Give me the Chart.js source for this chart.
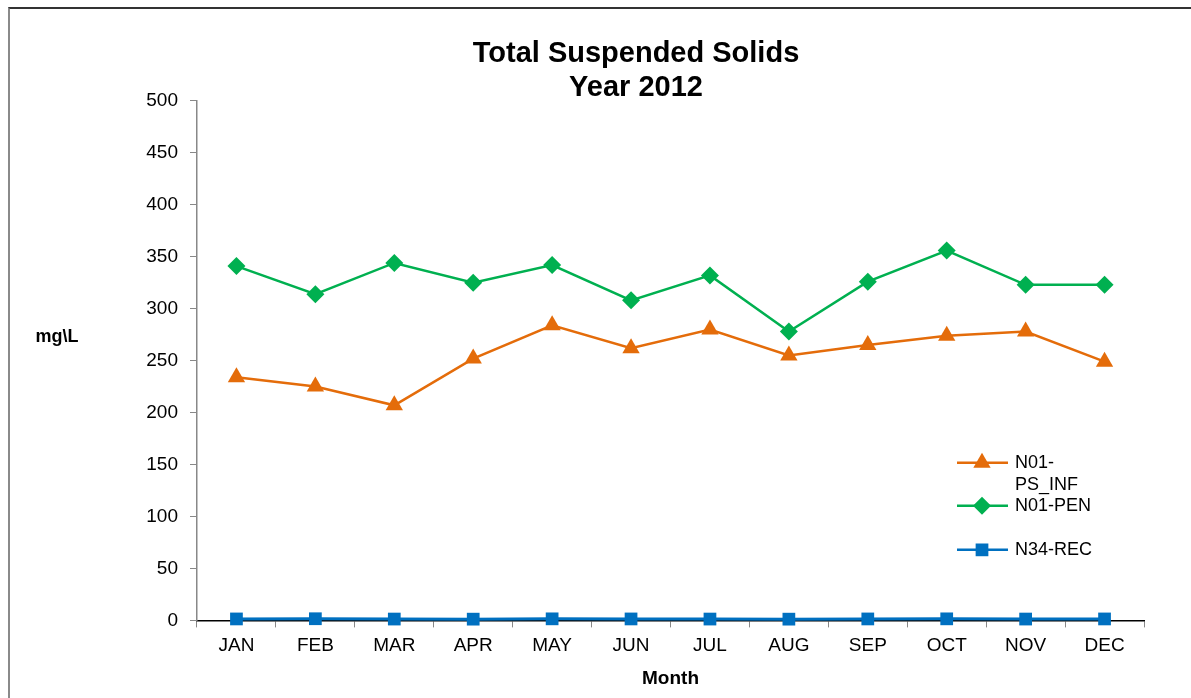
<!DOCTYPE html>
<html>
<head>
<meta charset="utf-8">
<script src="https://cdn.jsdelivr.net/npm/chart.js@4/dist/chart.umd.min.js"></script>
<style>
  body { margin: 0; background: #fff; }
  #wrap { position: relative; width: 1191px; height: 698px; overflow: hidden; }
  #frame { position: absolute; left: 8px; top: 7px; width: 1300px; height: 800px;
           border-left: 2px solid #8a8a8a; border-top: 2px solid #333; pointer-events: none; }
</style>
</head>
<body>
<div id="wrap">
  <canvas id="chart" width="1191" height="698"></canvas>
  <div id="frame"></div>
</div>
<script>
// data
const months = ['JAN', 'FEB', 'MAR', 'APR', 'MAY', 'JUN', 'JUL', 'AUG', 'SEP', 'OCT', 'NOV', 'DEC'];
const psInf = [234, 225, 207, 252, 284, 262, 280, 255, 265, 274, 278, 249];
const pen = [341, 314, 344, 325, 342, 308, 332, 278, 326, 356, 323, 323];
const rec = [1.4, 1.6, 1.3, 1.2, 1.5, 1.4, 1.3, 1.2, 1.4, 1.5, 1.3, 1.4];
const yTicks = [0, 50, 100, 150, 200, 250, 300, 350, 400, 450, 500];

const FONT = "'Liberation Sans', Arial, sans-serif";

// legend drawn inside the plot, like the Excel original
const insideLegend = {
  id: 'insideLegend',
  afterDraw(chart) {
    const ctx = chart.ctx;
    const area = chart.chartArea;
    const x0 = area.right - 187;
    const rows = [
      { ds: 0, y: area.top + 362, text: ['N01-', 'PS_INF'] },
      { ds: 1, y: area.top + 405, text: ['N01-PEN'] },
      { ds: 2, y: area.top + 449, text: ['N34-REC'] }
    ];
    ctx.save();
    rows.forEach(r => {
      const d = chart.data.datasets[r.ds];
      ctx.strokeStyle = d.borderColor;
      ctx.lineWidth = 2.5;
      ctx.beginPath();
      ctx.moveTo(x0, r.y);
      ctx.lineTo(x0 + 51, r.y);
      ctx.stroke();
      ctx.fillStyle = d.pointBackgroundColor;
      Chart.helpers.drawPoint(ctx, {
        pointStyle: d.pointStyle, radius: d.pointRadius, rotation: 0, borderWidth: 0
      }, x0 + 25, r.y);
      ctx.fillStyle = '#000';
      ctx.font = '18px ' + FONT;
      ctx.textBaseline = 'middle';
      ctx.textAlign = 'left';
      r.text.forEach((t, i) => ctx.fillText(t, x0 + 58, r.y + i * 22));
    });
    // horizontal y-axis title
    ctx.font = 'bold 18px ' + FONT;
    ctx.textAlign = 'center';
    ctx.fillText('mg\\L', 57, chart.scales.y.getPixelForValue(273));
    ctx.restore();
  }
};

new Chart(document.getElementById('chart'), {
  type: 'line',
  data: {
    labels: months,
    datasets: [
      {
        label: 'N01-PS_INF',
        data: psInf,
        borderColor: '#E46C0A',
        backgroundColor: '#E46C0A',
        pointBackgroundColor: '#E46C0A',
        pointStyle: 'triangle',
        pointRadius: 10,
        borderWidth: 2.5,
        pointBorderWidth: 0,
        tension: 0,
        clip: false
      },
      {
        label: 'N01-PEN',
        data: pen,
        borderColor: '#00B050',
        backgroundColor: '#00B050',
        pointBackgroundColor: '#00B050',
        pointStyle: 'rectRot',
        pointRadius: 9,
        borderWidth: 2.5,
        pointBorderWidth: 0,
        tension: 0,
        clip: false
      },
      {
        label: 'N34-REC',
        data: rec,
        borderColor: '#0070C0',
        backgroundColor: '#0070C0',
        pointBackgroundColor: '#0070C0',
        pointStyle: 'rect',
        pointRadius: 9,
        borderWidth: 3,
        pointBorderWidth: 0,
        tension: 0,
        clip: false
      }
    ]
  },
  options: {
    responsive: false,
    animation: false,
    layout: { padding: { left: 128, right: 47, top: 33, bottom: 8 } },
    plugins: {
      legend: { display: false },
      tooltip: { enabled: false },
      title: {
        display: true,
        text: ['Total Suspended Solids', 'Year 2012'],
        color: '#000',
        font: { family: FONT, size: 29, weight: 'bold', lineHeight: 1.17 },
        padding: { top: 4, bottom: -4 }
      }
    },
    scales: {
      x: {
        offset: true,
        grid: { offset: true, drawOnChartArea: false, drawTicks: true, tickLength: 7, color: '#888' },
        border: { display: true, color: '#000', width: 1.5 },
        ticks: { color: '#000', padding: 7, font: { family: FONT, size: 19 }, maxRotation: 0 },
        title: {
          display: true, text: 'Month', color: '#000',
          font: { family: FONT, size: 19, weight: 'bold' },
          padding: { top: 3, bottom: 0 }
        }
      },
      y: {
        min: 0,
        max: 500,
        afterBuildTicks: s => { s.ticks = yTicks.map(v => ({ value: v })); },
        afterFit: s => { s.width = 69; },
        grid: { drawOnChartArea: false, drawTicks: true, tickLength: 7, color: '#888' },
        border: { display: true, color: '#888', width: 1.5 },
        ticks: { color: '#000', padding: 12, font: { family: FONT, size: 19 } }
      }
    }
  },
  plugins: [insideLegend]
});
</script>
</body>
</html>
